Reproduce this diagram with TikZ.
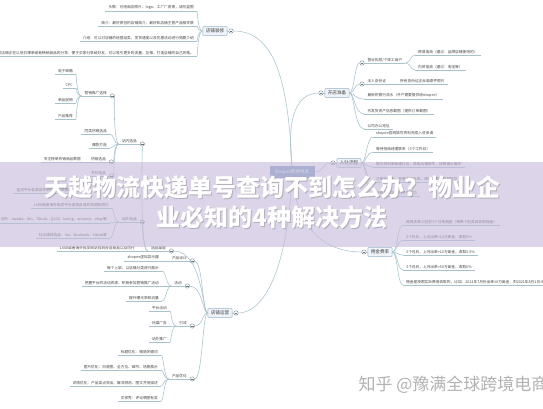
\documentclass[tikz,border=0pt]{standalone}
\usepackage{fontspec}
\usepackage{tikz}
\usetikzlibrary{calc}
\usetikzlibrary{positioning}
\newfontfamily\cjk{Noto Sans CJK SC}
\definecolor{linec}{RGB}{168,194,204}
\definecolor{txtc}{RGB}{70,70,70}
\definecolor{topicfill}{RGB}{238,244,250}
\definecolor{topicedge}{RGB}{150,176,196}
\definecolor{hubfill}{RGB}{125,160,202}
\definecolor{bandc}{RGB}{200,187,218}
\newcommand{\leaffont}{\cjk\fontsize{3.7}{4.4}\selectfont}
\newcommand{\topicfont}{\cjk\fontsize{4.6}{5.5}\selectfont}
\tikzset{
  conn/.style = {draw=linec, line width=.55pt},
  leaf/.style = {font=\leaffont, text=txtc, inner xsep=3pt, inner ysep=1.1pt},
  topic/.style = {rectangle, draw=topicedge, fill=topicfill, rounded corners=.8pt, font=\topicfont, text=black!75, inner xsep=3pt, inner ysep=2.2pt, line width=.5pt},
  fold/.style = {circle, draw=linec!70!black, fill=white, inner sep=0pt, minimum size=4.4pt, line width=.4pt,
    path picture={\draw[line width=.35pt, black!55] ([xshift=-1.2pt]path picture bounding box.center) -- ([xshift=1.2pt]path picture bounding box.center);}},
  titlefont/.style = {font=\cjk\bfseries\fontsize{24}{30}\selectfont},
}
% leaf text with its underline
\newcommand{\leafl}[3]{\node[leaf, anchor=south east] (#1) at (#2) {#3};
  \draw[conn, line width=.45pt] (#1.south west) -- (#1.south east);}
\newcommand{\leafr}[3]{\node[leaf, anchor=south west] (#1) at (#2) {#3};
  \draw[conn, line width=.45pt] (#1.south west) -- (#1.south east);}
% bracket curves, parent to child
\newcommand{\lbr}[2]{\draw[conn] (#1) .. controls ([xshift=-5pt]#1) and ([xshift=-5pt]#1 |- #2) .. (#2);}
\newcommand{\rbr}[2]{\draw[conn] (#1) .. controls ([xshift=5pt]#1) and ([xshift=5pt]#1 |- #2) .. (#2);}

\begin{document}
\begin{tikzpicture}[x=1pt, y=-1pt]
\useasboundingbox (0,0) rectangle (543,408);
\fill[white] (0,0) rectangle (543,408);

% centre and main topics
\node[rectangle, fill=hubfill, text=white, font=\topicfont, minimum width=45pt, minimum height=12pt, inner sep=1pt] (hub) at (292,172) {Shopee跨境电商};
\node[topic] (zx) at (215,31) {店铺装修};
\node[fold] (zx-o) at (231,31) {};
\node[topic] (kd) at (337,93) {开店准备};
\node[fold] (kd-o) at (321,93) {};
\node[topic] (rz) at (349,163) {入驻流程};
\node[fold] (rz-o) at (333,163) {};
\node[topic] (yj) at (380,252) {佣金费率};
\node[fold] (yj-o) at (364,252) {};
\node[topic] (yy) at (220,313) {店铺运营};
\node[fold] (yy-o) at (236,313) {};

\draw[conn] (hub.north) .. controls (288,76) and (273,31) .. (zx-o.east);
\draw[conn] (hub.north) .. controls (286,115) and (298,93) .. (kd-o.west);
\draw[conn] (hub.east) .. controls (324,172) and (322,163) .. (rz-o.west);
\draw[conn] (hub.south) .. controls (300,240) and (335,252) .. (yj-o.west);
\draw[conn] (hub.south) .. controls (286,285) and (258,313) .. (yy-o.east);
\foreach \t in {zx,yy} {\draw[conn] (\t.east) -- (\t-o.west);}
\foreach \t in {kd,rz,yj} {\draw[conn] (\t-o.east) -- (\t.west);}

% 店铺装修
\leafl{zx1}{197,11}{头像：可用商店照片、logo、工厂厂房等，请勿盗图}
\leafl{zx2}{197,26}{简介：最好原创的店铺简介，最好和店铺主营产品相关联}
\leafl{zx3}{197,41}{介绍：可以对店铺的经营品类、发货速度以及优惠活动进行简要介绍}
\leafl{zx4}{197,56}{分享：对店铺正在以低价爆单或者畅销商品的分享，便于买家分享给好友，可以吸引更多的流量，互相，打造店铺的自己风格。}
\foreach \c in {zx1,zx2,zx3,zx4} {\lbr{zx.west}{\c.south east}}

% 开店准备
\node[fold] (kd1-o) at (362,63) {};
\leafr{kd1}{364.3,63}{营业执照/个体工商户}
\leafr{kd1a}{415,55}{跨境电商（通过：品牌店铺使用的）}
\leafr{kd1b}{415,70}{内贸电商（通过：淘宝等）}
\node[fold] (kd2-o) at (362,84) {};
\leafr{kd2}{364.3,84}{法人身份证}
\leafr{kd2a}{397,84}{所有身份证正反面原件照片}
\leafr{kd3}{364.3,99}{最新的银行流水（开户需要提供给shopee）}
\leafr{kd4}{364.3,114}{代发货资产信息截图（提供订单截图）}
\leafr{kd5}{364.3,129}{公司办公地址}
\foreach \c in {kd1-o,kd2-o} {\rbr{kd.east}{\c.west}}
\foreach \c in {kd3,kd4,kd5} {\rbr{kd.east}{\c.south west}}
\foreach \c in {kd1a,kd1b} {\rbr{kd1.south east}{\c.south west}}
\draw[conn] (kd2.south east) -- (kd2a.south west);

% 入驻流程
\leafr{rz1}{373,137}{shopee官网填写资料完成入驻申请}
\leafr{rz2}{373,152}{等待招商经理联系（3个工作日）}
\leafr{rz3}{373,167}{提交资料审核通过后，获取店铺账号，按照提示操作}
\leafr{rz4}{373,182}{注册账号后，完善店铺信息，绑定收款账户并提交}
\leafr{rz5}{373,196}{审核通过后即可开店成功}
\foreach \c in {rz1,rz2,rz3,rz4,rz5} {\rbr{rz.east}{\c.south west}}

% 佣金费率
\leafr{yj1}{403,225}{跨境卖家入驻前3个月免佣金（特殊个别类目收取佣金）}
\leafr{yj2}{403,240}{3个月后，上月出单<10万美金，收取5\%}
\leafr{yj3}{403,255}{3个月后，上月出单>10万美金，收取5.5\%}
\leafr{yj4}{403,270}{3个月后，上月出单>50万美金，收取6\%}
\leafr{yj5}{403,285}{佣金是按照实际费用收取的，比如：2021年7月份出单10万美金，则2021年8月1日-8月31日的佣金按5.5\%收取}
\foreach \c in {yj1,yj2,yj3,yj4,yj5} {\rbr{yj.east}{\c.south west}}

% 店铺运营
\node[fold] (yy1-o) at (171.3,251) {};
\leafl{yy1}{169,251}{选品渠道}
\node[fold] (yy2-o) at (192.3,261) {};
\leafl{yy2}{190,261}{产品设计}
\node[fold] (yy3-o) at (187.3,286) {};
\leafl{yy3}{185,286}{活动}
\node[fold] (yy4-o) at (192.3,326) {};
\leafl{yy4}{190,326}{引流}
\node[fold] (yy5-o) at (192.3,379) {};
\leafl{yy5}{190,379}{产品优化}
\foreach \c in {yy1-o,yy2-o,yy3-o,yy4-o,yy5-o} {\lbr{yy.west}{\c.east}}

\leafl{yy2a}{162,261}{shopee虚拟显示器}
\draw[conn] (yy2.south west) -- (yy2a.south east);
\leafl{yy3a}{162,271}{每个上架，以店铺分类进行展示}
\leafl{yy3b}{162,286}{把握平台的活动资源，积极参加营销推广活动}
\leafl{yy3c}{162,301}{提升曝光率和流量}
\foreach \c in {yy3a,yy3b,yy3c} {\lbr{yy3.south west}{\c.south east}}
\leafl{yy4a}{170,311}{平台活动}
\leafl{yy4b}{170,326}{社媒广告}
\leafl{yy4c}{170,342}{站外推广}
\foreach \c in {yy4a,yy4b,yy4c} {\lbr{yy4.south west}{\c.south east}}
\leafl{yy5a}{161,355}{标题优化：精简关键词}
\leafl{yy5b}{161,370}{图片优化：白底图、全方位、细节、场景展示}
\leafl{yy5c}{161,386}{详情优化：产品卖点突出、解决顾虑、图文并茂描述}
\leafl{yy5d}{161,401}{买家秀：评论晒图有奖}
\foreach \c in {yy5a,yy5b,yy5c,yy5d} {\lbr{yy5.south west}{\c.south east}}

% 选品渠道
\leafl{yy1a}{138,251}{1688或者海外批发网站找到合适商品以及同行}
\draw[conn] (yy1.south west) -- (yy1a.south east);
\node[fold] (zn-o) at (142.3,144) {};
\leafl{zn}{140,144}{站内选品}
\node[fold] (zw-o) at (142.3,222) {};
\leafl{zw}{140,222}{站外选品}
\draw[conn] (yy1.south west) to[out=180, in=-90, looseness=.2] (zn-o.south);
\draw[conn] (yy1.south west) to[out=180, in=-90, looseness=.4] (zw-o.south);

\node[fold] (yx-o) at (112.3,96) {};
\leafl{yx}{110,96}{营销推广选择}
\leafl{zn2}{110,134}{同类热销选品}
\leafl{zn3}{110,148}{爆款打造}
\node[fold] (rx-o) at (111.3,162) {};
\leafl{rx}{109,162}{热销选品}
\node[fold] (jr-o) at (111.3,176) {};
\leafl{jr}{109,176}{节日选品}
\foreach \c in {yx-o,rx-o,jr-o} {\lbr{zn.south west}{\c.east}}
\foreach \c in {zn2,zn3} {\lbr{zn.south west}{\c.south east}}

\leafl{yx1}{76,74}{电子邮箱}
\leafl{yx2}{76,88}{CPC}
\leafl{yx3}{76,103}{单品促销}
\leafl{yx4}{76,119}{产品推荐}
\foreach \c in {yx1,yx2,yx3,yx4} {\lbr{yx.south west}{\c.south east}}
\leafl{rx1}{84,162}{关注榜单热销商品数据}
\draw[conn] (rx.south west) -- (rx1.south east);
\leafl{jr1}{79,193}{监测平台各类目热销排行榜数据商品}
\lbr{jr.south west}{jr1.south east}

\leafl{zw1}{112,208}{1688或者海外批发平台查找合适的货源及同行}
\leafl{zw2}{110,223}{站外：lazada、tiki、Tiktok、Q100、lazing、amazon、ebay等}
\leafl{zw3}{110,238}{社交媒体选品：ins、facebook、tiktok等}
\foreach \c in {zw1,zw2,zw3} {\lbr{zw.south west}{\c.south east}}

% title band
\fill[bandc, opacity=.62] (0,162) rectangle (543,247);
\node[titlefont, text=black!50, opacity=.45] (t1s) at (273.2,188.2) {天越物流快递单号查询不到怎么办？物业企};
\node[titlefont, text=white] (t1) at (272,187) {天越物流快递单号查询不到怎么办？物业企};
\node[titlefont, text=black!50, opacity=.45] (t2s) at (273.2,218.2) {业必知的4种解决方法};
\node[titlefont, text=white] (t2) at (272,217) {业必知的4种解决方法};

% watermark
\node[anchor=west, font=\cjk\fontsize{17}{20}\selectfont, text=black!30] (mark) at (355,385) {知乎 @豫满全球跨境电商};
\end{tikzpicture}
\end{document}
